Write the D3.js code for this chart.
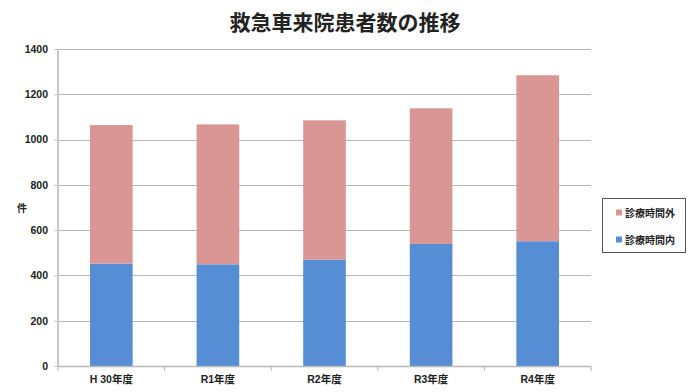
<!DOCTYPE html>
<html><head><meta charset="utf-8">
<script src="https://cdn.jsdelivr.net/npm/d3@7"></script>
<style>body{margin:0;background:#fff}svg{display:block}</style>
</head><body>
<svg id="c" width="690" height="392"></svg>
<script>
const categories = ["H 30年度","R1年度","R2年度","R3年度","R4年度"];
const inHours = [452, 449, 470, 539, 551];
const outHours = [612, 618, 615, 599, 733];
const seriesNames = ["診療時間内","診療時間外"];
const seriesColors = ["#558ed5","#d99694"];
const yTicks = [0,200,400,600,800,1000,1200,1400];
const title = "救急車来院患者数の推移";
const yLabel = "件";

const font = "'Liberation Sans','Noto Sans CJK JP',sans-serif";
const svg = d3.select("#c");
const m = {l:58, r:591, t:49, b:366};
const x = d3.scaleBand().domain(categories).range([m.l, m.r]).paddingInner(0.6).paddingOuter(0.3);
const y = d3.scaleLinear().domain([0,1400]).range([m.b, m.t]);

// grid
svg.append("g").selectAll("line").data(yTicks.filter(d=>d>0)).join("line")
  .attr("x1", m.l).attr("x2", m.r).attr("y1", d=>Math.round(y(d))+0.5).attr("y2", d=>Math.round(y(d))+0.5)
  .attr("stroke", "#b8b8b8").attr("stroke-width", 1);

const data = categories.map((c,i)=>({cat:c, a:inHours[i], b:outHours[i]}));
const stack = d3.stack().keys(["a","b"])(data);
svg.append("g").selectAll("g").data(stack).join("g")
  .attr("fill", (d,i)=>seriesColors[i])
  .selectAll("rect").data(d=>d).join("rect")
  .attr("x", d=>x(d.data.cat)).attr("width", x.bandwidth())
  .attr("y", d=>y(d[1])).attr("height", d=>y(d[0])-y(d[1]));

// axes
const yAxis = svg.append("g").attr("transform", `translate(${m.l},0)`)
  .call(d3.axisLeft(y).tickValues(yTicks).tickFormat(d3.format("d")).tickSize(4).tickPadding(6));
yAxis.select(".domain").attr("stroke","#c8c8c8").attr("stroke-width",2).attr("d", `M0,${m.t}V${m.b}`);
yAxis.selectAll(".tick line").attr("stroke","#c8c8c8");
yAxis.selectAll("text").attr("font-family", font).attr("font-size", 10.5).attr("font-weight","bold").attr("fill","#222");

const xg = svg.append("g").attr("transform", `translate(0,${m.b})`);
xg.append("line").attr("x1", m.l).attr("x2", m.r).attr("y1",0.5).attr("y2",0.5).attr("stroke","#b8b8b8").attr("stroke-width",1.5);
const step = (m.r - m.l)/categories.length;
xg.selectAll("line.t").data(d3.range(categories.length+1)).join("line").attr("class","t")
  .attr("x1", i=>m.l+i*step).attr("x2", i=>m.l+i*step).attr("y1",0).attr("y2",5).attr("stroke","#b8b8b8");
xg.selectAll("text").data(categories).join("text")
  .attr("x", d=>x(d)+x.bandwidth()/2).attr("y", 17).attr("text-anchor","middle")
  .attr("font-family", font).attr("font-size", 10.5).attr("font-weight","bold").attr("fill","#222")
  .text(d=>d);

// title
svg.append("text").attr("x", 345).attr("y", 30).attr("text-anchor","middle")
  .attr("font-family","'Noto Sans CJK JP',sans-serif").attr("font-size",21).attr("font-weight","bold").attr("fill","#222")
  .text(title);
svg.append("text").attr("x", 22).attr("y", 212).attr("text-anchor","middle")
  .attr("font-family","'Noto Sans CJK JP',sans-serif").attr("font-size",10).attr("font-weight","bold").attr("fill","#222")
  .text(yLabel);

// legend
const lg = svg.append("g");
lg.append("rect").attr("x",602.5).attr("y",198.5).attr("width",83).attr("height",54).attr("fill","#fff").attr("stroke","#555").attr("stroke-width",1);
const items = [{n:seriesNames[1], c:seriesColors[1]},{n:seriesNames[0], c:seriesColors[0]}];
items.forEach((it,i)=>{
  const yy = 213 + i*27;
  lg.append("rect").attr("x",616).attr("y",yy-3.5).attr("width",6).attr("height",6).attr("fill",it.c);
  lg.append("text").attr("x",625).attr("y",yy+3.5).attr("font-family","'Noto Sans CJK JP',sans-serif")
    .attr("font-size",10).attr("font-weight","bold").attr("fill","#222").text(it.n);
});
</script>
</body></html>
